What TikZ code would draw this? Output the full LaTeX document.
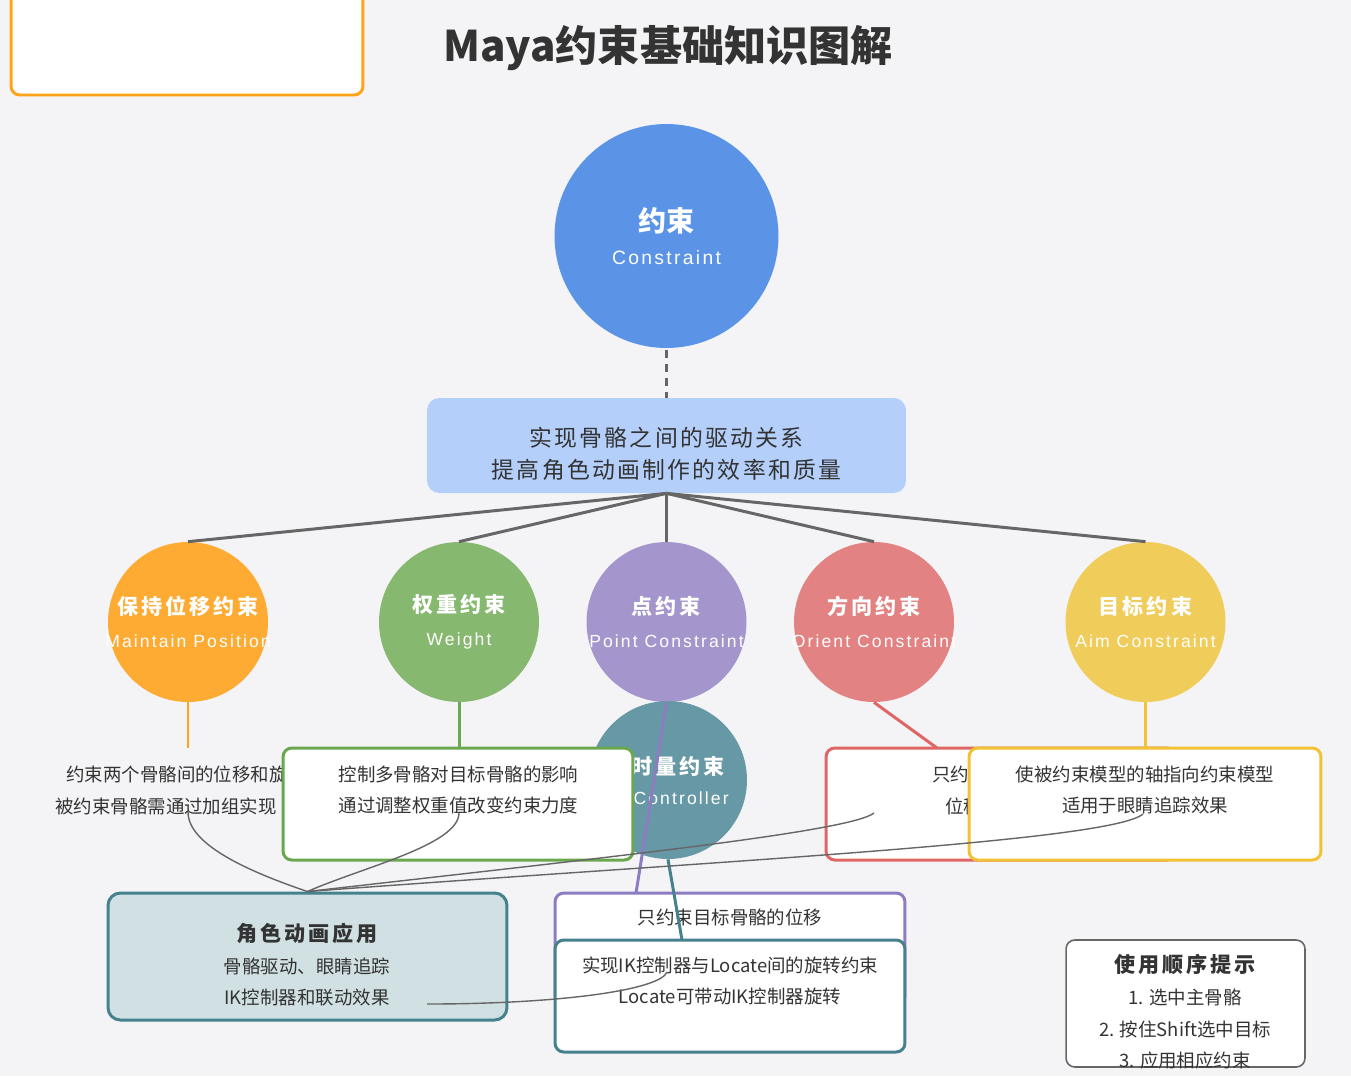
\documentclass[tikz,border=0pt]{standalone}
\usepackage{fontspec}
\setmainfont{Noto Sans CJK SC}
\newfontfamily\spcjk[LetterSpace=14]{Noto Sans CJK SC}
\newfontfamily\spmid[LetterSpace=10]{Noto Sans CJK SC}
\newfontfamily\spen[LetterSpace=12]{Liberation Sans}

\definecolor{bg}{HTML}{F4F4F6}
\definecolor{ink}{HTML}{333333}
\definecolor{lnk}{HTML}{666666}
\definecolor{hdrC}{HTML}{FFA31A}
\definecolor{rootC}{HTML}{5B93E6}
\definecolor{midC}{HTML}{B5CFFB}
\definecolor{orgC}{HTML}{FDAB33}
\definecolor{grnC}{HTML}{86B870}
\definecolor{purC}{HTML}{A495CC}
\definecolor{redC}{HTML}{E38282}
\definecolor{yelC}{HTML}{F0CC5A}
\definecolor{tealC}{HTML}{6699A5}
\definecolor{grnB}{HTML}{6AA84F}
\definecolor{redB}{HTML}{E06666}
\definecolor{yelB}{HTML}{F1C232}
\definecolor{purB}{HTML}{8E7CC3}
\definecolor{tealB}{HTML}{45818E}
\definecolor{appC}{HTML}{D0E0E3}

% circle text: bold title over spaced english, zero width so the circle keeps its size
\newcommand{\ctext}[2]{\makebox[0pt]{\bfseries\spcjk #1}\\\makebox[0pt]{\spen\fontsize{10}{18.5}\selectfont #2}}

\begin{document}
\begin{tikzpicture}[x=0.02cm,y=-0.02cm,
  ball/.style={circle,minimum size=3.2cm,inner sep=0pt,text=white,align=center,font=\fontsize{12}{18.5}\selectfont},
  card/.style={draw,fill=white,rounded corners=5pt,line width=1.7pt,minimum width=7cm,minimum height=2.24cm,inner sep=0pt},
  txt/.style={text=ink,align=center,inner sep=0pt,font=\fontsize{10.5}{18.1}\selectfont},
  head/.style={text=ink,inner sep=0pt,font=\fontsize{12}{18}\selectfont\bfseries\spcjk},
  link/.style={draw=lnk,line width=1.7pt},
  rel/.style={draw=lnk,line width=0.8pt}
]
\fill[bg] (0,0) rectangle (1351,1076);
\useasboundingbox (0,0) rectangle (1351,1076);

% header
\node[draw=hdrC,fill=white,line width=1.7pt,rounded corners=5pt,minimum width=7.04cm,minimum height=2.2cm] (hdr) at (187,40) {};
\node[text=ink,inner sep=0pt,font=\fontsize{24}{30}\selectfont\bfseries] (title) at (668,48) {Maya约束基础知识图解};

% root and summary
\node[ball,fill=rootC,minimum size=4.48cm] (root) at (666.5,236)
  {\makebox[0pt]{\fontsize{16}{17.5}\selectfont\bfseries 约束}\\\makebox[0pt]{\spen\fontsize{11}{17.5}\selectfont Constraint}};
\node[fill=midC,rounded corners=7pt,minimum width=9.58cm,minimum height=1.9cm] (mid) at (666.5,445.5) {};
\node[txt,font=\fontsize{13}{18.1}\selectfont\spmid] (midt) at (666.5,454) {实现骨骼之间的驱动关系\\提高角色动画制作的效率和质量};
\draw[link,dash pattern=on 4.5pt off 3.4pt] (root.south |- 0,350) -- (mid);

% constraint types
\node[ball,fill=orgC] (c1) at (188,622) {\ctext{保持位移约束}{Maintain Position}};
\node[ball,fill=grnC] (c2) at (459,622) {\ctext{权重约束}{Weight}};
\node[ball,fill=purC] (c3) at (666.5,622) {\ctext{点约束}{Point Constraint}};
\node[ball,fill=redC] (c4) at (874,622) {\ctext{方向约束}{Orient Constraint}};
\node[ball,fill=yelC] (c5) at (1145.5,622) {\ctext{目标约束}{Aim Constraint}};
\foreach \c in {c1,c2,c3,c4,c5}
  \draw[link] (mid.south) -- (\c.north);

\node[ball,fill=tealC,minimum size=3.16cm] (c6) at (668,780) {};
\node[text=white,inner sep=0pt,anchor=east,font=\fontsize{12}{18}\selectfont\bfseries\spcjk] (c6t) at (725,766) {时量约束};
\node[text=white,inner sep=0pt,anchor=east,font=\fontsize{10}{18}\selectfont\spen] (c6e) at (729,798) {Controller};

% leads
\coordinate (otop) at (188,748);
\coordinate (rtop) at (937,748);
\coordinate (ptop) at (636,893);
\coordinate (ttop) at (682,940);
\draw[link,draw=hdrC] (c1.south) -- (otop);
\draw[link,draw=purB] (c3.south) -- (ptop);

% notes
\node[txt,anchor=west] (o1) at (66,774) {约束两个骨骼间的位移和旋};
\node[txt,anchor=west] (o2) at (55,806) {被约束骨骼需通过加组实现};

\node[card,draw=grnB] (gbox) at (458,804) {};
\draw[link,draw=grnB] (c2.south) -- (c2.south |- gbox.north);
\node[txt] (gt) at (458.5,790) {控制多骨骼对目标骨骼的影响\\通过调整权重值改变约束力度};

\node[card,draw=redB] (rbox) at (1001,804) {};
\draw[link,draw=redB] (c4.south) -- (rtop);
\node[txt,anchor=west] (r1) at (932,774) {只约};
\node[txt,anchor=west] (r2) at (945,806) {位移};

\node[card,draw=yelB,minimum width=7.04cm] (ybox) at (1145,804) {};
\draw[link,draw=yelB] (c5.south) -- (c5.south |- ybox.north);
\node[txt] (yt) at (1145,790) {使被约束模型的轴指向约束模型\\适用于眼睛追踪效果};

\node[card,draw=purB] (pbox) at (730,949) {};
\node[txt] (pt) at (730,917) {只约束目标骨骼的位移};
\draw[link,draw=tealB] (c6.south) -- (ttop);
\node[card,draw=tealB] (tbox) at (730,996) {};
\node[txt] (tt) at (730,981) {实现IK控制器与Locate间的旋转约束\\Locate可带动IK控制器旋转};

% application
\node[card,draw=tealB,fill=appC,rounded corners=7pt,minimum width=7.98cm,minimum height=2.54cm] (app) at (307.5,956.5) {};
\node[head] (appt) at (307,933) {角色动画应用};
\node[txt] (appb) at (307,982) {骨骼驱动、眼睛追踪\\IK控制器和联动效果};

% tips
\node[draw=lnk,fill=white,line width=0.9pt,rounded corners=5pt,minimum width=4.78cm,minimum height=2.54cm] (tips) at (1185.5,1003.5) {};
\node[head] (tipt) at (1185,964) {使用顺序提示};
\node[txt] (tipb) at (1185,1029) {1. 选中主骨骼\\2. 按住Shift选中目标\\3. 应用相应约束};

% relations
\coordinate (a1) at (188,812);
\coordinate (a2) at (459,813);
\coordinate (a3) at (874,813);
\coordinate (a4) at (1143,814);
\coordinate (a0) at (427,1004);
\coordinate (a5) at (667,972);
\draw[rel] (app.north) .. controls (250,872) and (188,845) .. (a1);
\draw[rel] (app.north) .. controls (360,868) and (459,845) .. (a2);
\draw[rel] (app.north) .. controls (600,858) and (850,832) .. (a3);
\draw[rel] (app.north) .. controls (700,862) and (1110,842) .. (a4);
\draw[rel] (a0) .. controls (560,1004) and (660,990) .. (a5);
\end{tikzpicture}
\end{document}
